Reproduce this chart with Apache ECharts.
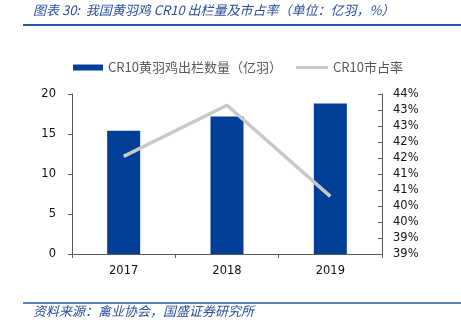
<!DOCTYPE html>
<html><head><meta charset="utf-8">
<script src="https://cdn.jsdelivr.net/npm/echarts@6/dist/echarts.min.js"></script>
<style>html,body{margin:0;padding:0;background:#fff}#c{width:461px;height:331px}</style>
</head><body><div id="c"></div>
<script>
const categories = ['2017', '2018', '2019'];
const volumeValues = [15.4, 17.2, 18.8];
const shareValues = [42.05, 43.65, 40.8];
const pctTickLabels = ['39%','39%','40%','40%','41%','41%','42%','42%','43%','43%','44%'];
const titleText = '图表 30:  我国黄羽鸡 CR10 出栏量及市占率（单位：亿羽，%）';
const sourceText = '资料来源：禽业协会，国盛证券研究所';
const barName = 'CR10黄羽鸡出栏数量（亿羽）';
const lineName = 'CR10市占率';

const chart = echarts.init(document.getElementById('c'));
const axisColor = '#595959';
const labelFont = { color: '#111', fontSize: 11.5, fontFamily: 'DejaVu Sans' };
chart.setOption({
  animation: false,
  textStyle: { fontFamily: 'DejaVu Sans' },
  grid: { left: 72, right: 79, top: 94, bottom: 77, containLabel: false },
  legend: [
    { data: [barName], left: 68, top: 56, itemWidth: 30, itemHeight: 6, icon: 'rect',
      textStyle: { color: '#595959', fontSize: 13, fontFamily: 'Noto Sans CJK SC' } },
    { data: [lineName], left: 291, top: 56, itemWidth: 32, itemHeight: 3, icon: 'rect',
      textStyle: { color: '#595959', fontSize: 13, fontFamily: 'Noto Sans CJK SC' } }
  ],
  xAxis: {
    type: 'category', data: categories,
    axisLine: { lineStyle: { color: axisColor, width: 1 } },
    axisTick: { show: true, length: 4, lineStyle: { color: axisColor } },
    axisLabel: Object.assign({ margin: 11 }, labelFont)
  },
  yAxis: [
    { type: 'value', min: 0, max: 20, interval: 5, splitLine: { show: false },
      axisLine: { show: true, lineStyle: { color: axisColor } },
      axisTick: { show: true, length: 4, lineStyle: { color: axisColor } },
      axisLabel: Object.assign({ margin: 16 }, labelFont) },
    { type: 'value', min: 39, max: 44, interval: 0.5, splitLine: { show: false }, position: 'right',
      axisLine: { show: true, lineStyle: { color: axisColor } },
      axisTick: { show: true, inside: true, length: 4, lineStyle: { color: axisColor } },
      axisLabel: Object.assign({ margin: 11, formatter: (v, i) => pctTickLabels[i] }, labelFont) }
  ],
  series: [
    { name: barName, type: 'bar', data: volumeValues, barWidth: 33, itemStyle: { color: '#003E97' }, yAxisIndex: 0 },
    { name: lineName, type: 'line', data: shareValues, yAxisIndex: 1, symbol: 'none',
      lineStyle: { color: '#C8C8C8', width: 3.5 }, itemStyle: { color: '#C8C8C8' } }
  ],
  graphic: [
    { type: 'text', left: 33, top: 4, style: { text: titleText, fill: '#2A4E9B', fontSize: 13, fontStyle: 'italic', fontFamily: 'Noto Sans CJK SC' } },
    { type: 'line', shape: { x1: 23, y1: 25, x2: 461, y2: 25 }, style: { stroke: '#2A58A8', lineWidth: 2 } },
    { type: 'line', shape: { x1: 23, y1: 303, x2: 461, y2: 303 }, style: { stroke: '#2A58A8', lineWidth: 1.5 } },
    { type: 'text', left: 33, top: 305, style: { text: sourceText, fill: '#2A4E9B', fontSize: 13, fontStyle: 'italic', fontFamily: 'Noto Sans CJK SC' } }
  ]
});
</script></body></html>
